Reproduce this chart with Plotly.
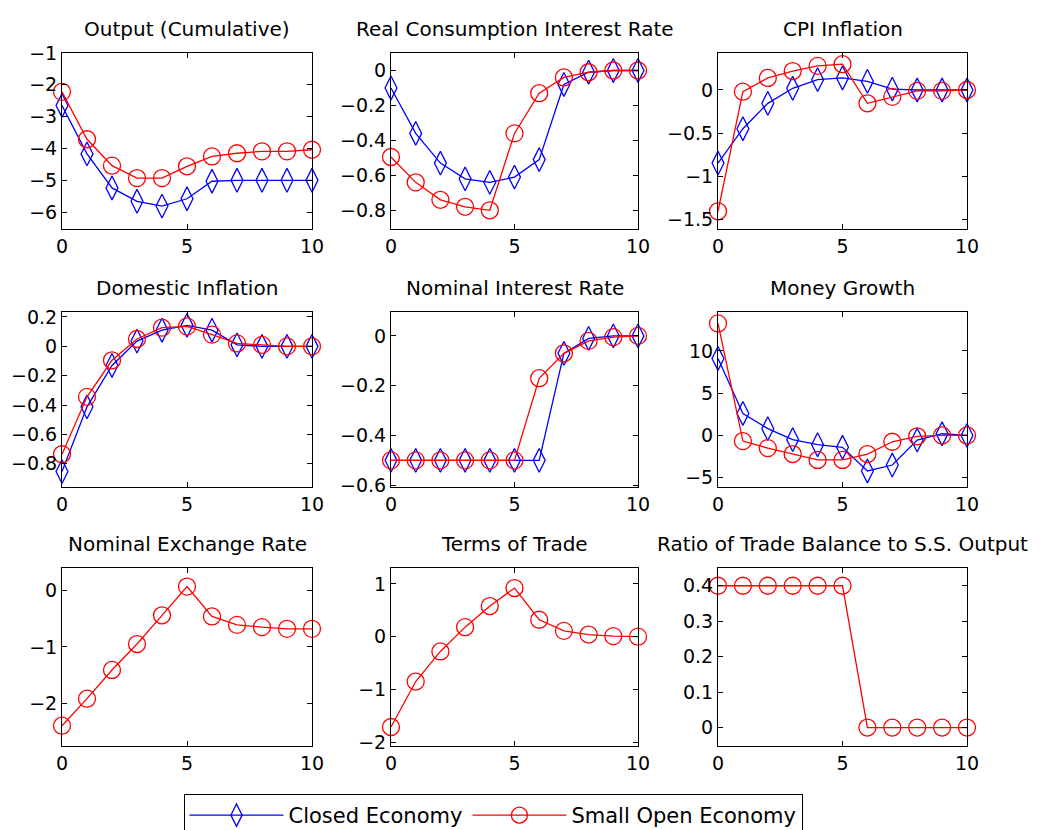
import plotly.graph_objects as go

periods = list(range(11))

titles = [
    "Output (Cumulative)", "Real Consumption Interest Rate", "CPI Inflation",
    "Domestic Inflation", "Nominal Interest Rate", "Money Growth",
    "Nominal Exchange Rate", "Terms of Trade", "Ratio of Trade Balance to S.S. Output",
]

# Closed economy (blue diamonds); None = not plotted
closed_output = [-2.65, -4.17, -5.24, -5.66, -5.81, -5.58, -5.03, -5.0, -5.0, -5.0, -5.0]
closed_real_rate = [-0.1, -0.36, -0.53, -0.62, -0.64, -0.61, -0.51, -0.08, -0.01, 0.0, 0.0]
closed_cpi = [-0.85, -0.45, -0.155, 0.02, 0.12, 0.14, 0.1, 0.01, 0.0, 0.0, 0.0]
closed_dom_infl = [-0.853, -0.412, -0.13, 0.036, 0.11, 0.143, 0.11, 0.01, 0.0, 0.0, 0.0]
closed_nom_rate = [-0.5, -0.5, -0.5, -0.5, -0.5, -0.5, -0.5, -0.07, -0.01, 0.0, 0.0]
closed_money = [9.1, 2.6, 0.8, -0.5, -1.1, -1.4, -4.2, -3.5, -0.55, 0.2, 0.0]

# Small open economy (red circles)
open_output = [-2.22, -3.71, -4.54, -4.93, -4.93, -4.56, -4.25, -4.15, -4.09, -4.09, -4.04]
open_real_rate = [-0.495, -0.64, -0.74, -0.78, -0.8, -0.36, -0.13, -0.04, -0.01, 0.0, 0.0]
open_cpi = [-1.41, -0.02, 0.14, 0.22, 0.28, 0.3, -0.155, -0.08, -0.01, -0.01, 0.0]
open_dom_infl = [-0.735, -0.344, -0.095, 0.05, 0.127, 0.136, 0.08, 0.02, 0.01, 0.0, 0.0]
open_nom_rate = [-0.5, -0.5, -0.5, -0.5, -0.5, -0.5, -0.17, -0.07, -0.02, -0.005, 0.0]
open_money = [13.25, -0.67, -1.5, -2.2, -2.9, -2.9, -2.2, -0.75, -0.1, 0.0, 0.0]
open_exch = [-2.4, -1.92, -1.41, -0.95, -0.44, 0.07, -0.46, -0.61, -0.65, -0.68, -0.68]
open_tot = [-1.71, -0.85, -0.28, 0.18, 0.58, 0.92, 0.32, 0.11, 0.04, 0.01, 0.0]
open_tb = [0.4, 0.4, 0.4, 0.4, 0.4, 0.4, 0.0, 0.0, 0.0, 0.0, 0.0]

closed_series = [closed_output, closed_real_rate, closed_cpi, closed_dom_infl,
                 closed_nom_rate, closed_money, None, None, None]
open_series = [open_output, open_real_rate, open_cpi, open_dom_infl,
               open_nom_rate, open_money, open_exch, open_tot, open_tb]

y_ranges = [[-6.53, -1.0], [-0.907, 0.1], [-1.616, 0.43], [-0.958, 0.234],
            [-0.607, 0.096], [-6.1, 14.6], [-2.76, 0.4], [-2.07, 1.3], [-0.052, 0.45]]
y_dticks = [1, 0.2, 0.5, 0.2, 0.2, 5, 1, 1, 0.1]
x_ticks = [0, 5, 10]

W, H = 1040, 830
OFF = 8  # page body margin offset
col_px = [(62, 312), (391, 638), (718, 967)]
row_px = [(53, 229), (312, 487), (568, 746)]


def fx(px):
    return (px - OFF) / W


def fy(px):
    return 1 - (px - OFF) / H


FONT = "DejaVu Sans"
BLUE = "#0000ff"
RED = "#ff0000"

fig = go.Figure()
annotations = []
for i in range(9):
    r, c = divmod(i, 3)
    n = "" if i == 0 else str(i + 1)
    xa, ya = "x" + n, "y" + n
    x0, x1 = col_px[c]
    y0, y1 = row_px[r]
    axis_common = dict(
        showline=True, linecolor="black", linewidth=1, mirror="ticks",
        ticks="inside", ticklen=5, tickcolor="black", tickwidth=1,
        showgrid=False, zeroline=False, automargin=False,
        tickfont=dict(family=FONT, size=19, color="black"),
    )
    fig.layout["xaxis" + n] = dict(domain=[fx(x0), fx(x1)], anchor=ya, range=[0, 10],
                                   tickmode="array", tickvals=x_ticks, **axis_common)
    fig.layout["yaxis" + n] = dict(domain=[fy(y1), fy(y0)], anchor=xa, range=y_ranges[i],
                                   dtick=y_dticks[i], tick0=0, **axis_common)
    if closed_series[i] is not None:
        fig.add_trace(go.Scatter(
            x=periods, y=closed_series[i], xaxis=xa, yaxis=ya,
            mode="lines+markers", name="Closed Economy", showlegend=(i == 0),
            line=dict(color=BLUE, width=1.3),
            marker=dict(symbol="diamond-tall-open", size=17, color=BLUE,
                        line=dict(color=BLUE, width=1.3)),
            cliponaxis=False,
        ))
    fig.add_trace(go.Scatter(
        x=periods, y=open_series[i], xaxis=xa, yaxis=ya,
        mode="lines+markers", name="Small Open Economy", showlegend=(i == 0),
        line=dict(color=RED, width=1.3),
        marker=dict(symbol="circle-open", size=17, color=RED,
                    line=dict(color=RED, width=1.3)),
        cliponaxis=False,
    ))
    annotations.append(dict(
        text=titles[i], xref="paper", yref="paper",
        x=fx((x0 + x1) / 2), y=fy(y0 - 10),
        xanchor="center", yanchor="bottom", showarrow=False,
        font=dict(family=FONT, size=20, color="black"),
    ))

fig.update_layout(
    width=W, height=H,
    margin=dict(l=0, r=0, t=0, b=0, autoexpand=False),
    paper_bgcolor="white", plot_bgcolor="white",
    annotations=annotations,
    showlegend=True,
    legend=dict(
        orientation="h", x=fx(493), xanchor="center", y=fy(794), yanchor="top",
        bordercolor="black", borderwidth=1, bgcolor="white",
        font=dict(family=FONT, size=21, color="black"),
        itemwidth=94, traceorder="normal",
    ),
)

fig.write_html("out.html")
